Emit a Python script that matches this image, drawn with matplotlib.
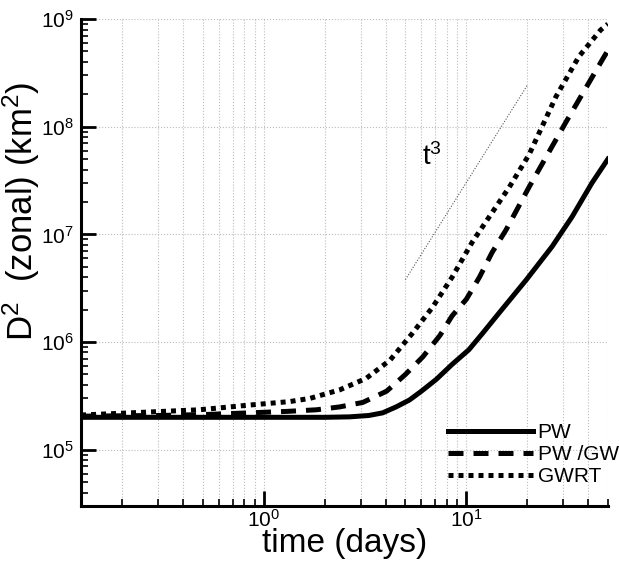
import matplotlib
matplotlib.use("Agg")
import matplotlib.pyplot as plt
from matplotlib.ticker import LogLocator, NullFormatter

plt.rcParams["font.family"] = ["Liberation Sans", "DejaVu Sans"]
plt.rcParams["mathtext.fontset"] = "custom"
plt.rcParams["mathtext.rm"] = "Liberation Sans"
plt.rcParams["mathtext.it"] = "Liberation Sans:italic"

# PW (solid)
pw_t = [0.125, 0.5, 1, 2, 2.65, 3.3, 3.86, 4.5, 5.24, 6.0, 7.1, 8.5,
        10.3, 12, 14.5, 19.8, 26.5, 33.3, 41.7, 50]
pw_d = [2.0e5, 2.0e5, 2.0e5, 2.0e5, 2.02e5, 2.08e5, 2.2e5, 2.5e5, 2.9e5,
        3.5e5, 4.5e5, 6.2e5, 8.5e5, 1.2e6, 1.86e6, 3.8e6, 7.7e6, 1.46e7,
        3.0e7, 5.0e7]

# PW /GW (dashed)
pwgw_t = [0.125, 0.3, 0.5, 0.85, 1.3, 1.82, 2.37, 3.08, 4.04, 5.0, 6.1,
          7.4, 8.5, 10, 11.6, 13.4, 15.7, 20.4, 31, 48, 50]
pwgw_d = [2.05e5, 2.08e5, 2.12e5, 2.2e5, 2.27e5, 2.35e5, 2.5e5, 2.75e5,
          3.5e5, 5.0e5, 7.3e5, 1.15e6, 1.75e6, 2.5e6, 4.0e6, 6.8e6, 1.1e7,
          2.75e7, 1.1e8, 4.5e8, 5.1e8]

# GWRT (dotted)
gwrt_t = [0.125, 0.48, 0.85, 1.34, 1.69, 2.37, 3.2, 4.2, 5.4, 6.8, 8.5,
          10.7, 14, 16.3, 20.4, 27.7, 36, 46, 50]
gwrt_d = [2.1e5, 2.35e5, 2.6e5, 2.8e5, 3.0e5, 3.6e5, 4.6e5, 6.8e5, 1.2e6,
          2.1e6, 4.0e6, 8.5e6, 1.8e7, 2.75e7, 5.5e7, 1.9e8, 4.5e8, 7.9e8,
          9.0e8]

# t^3 reference slope
ref_t = [5, 20]
ref_d = [3.8e6, 2.43e8]

fig = plt.figure(figsize=(6.19, 5.61), dpi=100)
ax = fig.add_axes([0.131, 0.098, 0.851, 0.868])

ax.plot(pw_t, pw_d, color="black", lw=3.6, ls="-", label="PW")
ax.plot(pwgw_t, pwgw_d, color="black", lw=3.6, ls=(0, (3, 2)),
        dash_capstyle="butt", label="PW /GW")
ax.plot(gwrt_t, gwrt_d, color="black", lw=3.6, ls=(0, (1, 1)),
        dash_capstyle="butt", label="GWRT")
ax.plot(ref_t, ref_d, color="#555555", lw=0.8, ls=(0, (1, 1.5)))
ax.text(6.8, 5.2e7, "t$^3$", fontsize=20, ha="center", va="center")

ax.set_xscale("log")
ax.set_yscale("log")
ax.set_xlim(0.125, 50)
ax.set_ylim(3.0e4, 1e9)

ax.xaxis.set_major_locator(LogLocator(base=10, numticks=10))
ax.xaxis.set_minor_locator(LogLocator(base=10, subs=range(2, 10), numticks=20))
ax.xaxis.set_minor_formatter(NullFormatter())
ax.yaxis.set_major_locator(LogLocator(base=10, numticks=10))
ax.yaxis.set_minor_locator(LogLocator(base=10, subs=range(2, 10), numticks=20))
ax.yaxis.set_minor_formatter(NullFormatter())

ax.grid(True, which="major", axis="both", color="#bbbbbb", ls=":", lw=0.8)
ax.grid(True, which="minor", axis="x", color="#bbbbbb", ls=":", lw=0.8)

for side in ("top", "right"):
    ax.spines[side].set_visible(False)
for side in ("left", "bottom"):
    ax.spines[side].set_linewidth(2.2)

ax.tick_params(which="major", direction="in", length=10.5, width=2,
               labelsize=15, pad=5)
ax.tick_params(axis="x", which="major", pad=2)
ax.tick_params(which="minor", direction="in", length=5, width=1.2)

ax.set_xlabel("time (days)", fontsize=24)
ax.xaxis.set_label_coords(0.5, -0.046)
ax.set_ylabel("D$^2$  (zonal) (km$^2$)", fontsize=25)
ax.yaxis.set_label_coords(-0.074, 0.605)

fig.legend(loc="upper left", bbox_to_anchor=(448 / 619, 1 - 423 / 561),
           frameon=False, fontsize=15, handlelength=4.1, handletextpad=0.2,
           labelspacing=0.15, borderpad=0, borderaxespad=0)

fig.savefig("out.png", dpi=100)
